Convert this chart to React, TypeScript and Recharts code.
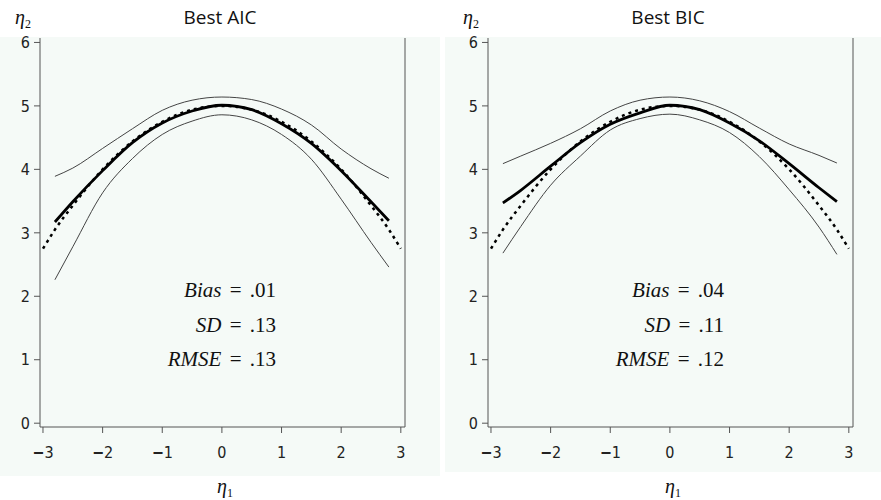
import { LineChart, Line, XAxis, YAxis, ReferenceLine } from 'recharts'

const etaGrid = [-3, -2.8, -2.5, -2, -1.5, -1, -0.5, 0, 0.5, 1, 1.5, 2, 2.5, 2.8, 3]

// true curve (dashed), same in both panels
const trueCurve = [2.75, 3.05, 3.43, 4.0, 4.44, 4.75, 4.94, 5.0, 4.94, 4.75, 4.44, 4.0, 3.43, 3.05, 2.75]

// Best AIC
const aicEstimate = [null, 3.17, 3.49, 3.98, 4.42, 4.73, 4.92, 5.01, 4.94, 4.72, 4.41, 3.98, 3.49, 3.19, null]
const aicUpper = [null, 3.89, 4.02, 4.33, 4.64, 4.93, 5.09, 5.14, 5.1, 4.95, 4.7, 4.32, 4.01, 3.86, null]
const aicLower = [null, 2.26, 2.78, 3.63, 4.17, 4.55, 4.76, 4.86, 4.78, 4.55, 4.16, 3.53, 2.85, 2.46, null]

// Best BIC
const bicEstimate = [null, 3.47, 3.67, 4.05, 4.42, 4.71, 4.89, 5.01, 4.94, 4.73, 4.45, 4.09, 3.71, 3.49, null]
const bicUpper = [null, 4.09, 4.21, 4.41, 4.64, 4.92, 5.09, 5.14, 5.08, 4.91, 4.65, 4.4, 4.22, 4.1, null]
const bicLower = [null, 2.68, 3.1, 3.75, 4.21, 4.62, 4.8, 4.87, 4.78, 4.58, 4.2, 3.68, 3.09, 2.66, null]

const xTicks = [-3, -2, -1, 0, 1, 2, 3]
const yTicks = [0, 1, 2, 3, 4, 5, 6]

const aicStats = { bias: '.01', sd: '.13', rmse: '.13' }
const bicStats = { bias: '.04', sd: '.11', rmse: '.12' }

const bg = '#f5faf7'
const axisColor = '#555'
const narrow = '"Liberation Sans Narrow", "DejaVu Sans Condensed", Arial, sans-serif'
const serif = '"Liberation Serif", "Times New Roman", serif'

const buildRows = (est: (number | null)[], upper: (number | null)[], lower: (number | null)[]) =>
  etaGrid.map((x, i) => ({ x, truth: trueCurve[i], est: est[i], upper: upper[i], lower: lower[i] }))

const XTick = ({ x, y, payload }: any) => (
  <text x={x} y={y} dy="0.71em" textAnchor="middle" fontSize={16} fontFamily={narrow} fill="#222">
    {payload.value < 0 && <tspan fontWeight="bold">{'\u2212'}</tspan>}
    {Math.abs(payload.value)}
  </text>
)

const YTick = ({ x, y, payload }: any) => (
  <text x={x} y={y} dy="0.36em" textAnchor="end" fontSize={16} fontFamily={narrow} fill="#222">
    {payload.value}
  </text>
)

interface PanelProps {
  title: string
  rows: ReturnType<typeof buildRows>
  stats: { bias: string; sd: string; rmse: string }
  left: number
  bgLeft: number
  bgWidth: number
  bgBottom: number
}

function Panel({ title, rows, stats, left, bgLeft, bgWidth, bgBottom }: PanelProps) {
  return (
    <>
      <div
        style={{ position: 'absolute', left: bgLeft, top: 37, width: bgWidth, height: bgBottom - 37, background: bg }}
      />
      <div style={{ position: 'absolute', left, top: 0 }}>
        <LineChart width={440} height={500} data={rows} margin={{ top: 38, right: 35, left: 10, bottom: 43 }}>
          <XAxis
            dataKey="x"
            type="number"
            domain={[-3.05, 3.07]}
            ticks={xTicks}
            allowDataOverflow
            height={30}
            tickSize={6}
            tickMargin={14}
            tick={<XTick />}
            stroke={axisColor}
          />
          <YAxis
            type="number"
            domain={[-0.06, 6.07]}
            ticks={yTicks}
            allowDataOverflow
            width={30}
            tickSize={6}
            tickMargin={4}
            tick={<YTick />}
            stroke={axisColor}
          />
          <ReferenceLine x={3.07} stroke={axisColor} />
          <Line
            dataKey="truth"
            type="monotone"
            stroke="#000"
            strokeWidth={2.5}
            strokeDasharray="3 4"
            dot={false}
            isAnimationActive={false}
          />
          <Line dataKey="upper" type="monotone" stroke="#444" strokeWidth={1} dot={false} isAnimationActive={false} />
          <Line dataKey="lower" type="monotone" stroke="#444" strokeWidth={1} dot={false} isAnimationActive={false} />
          <Line dataKey="est" type="monotone" stroke="#000" strokeWidth={2.8} dot={false} isAnimationActive={false} />
        </LineChart>
      </div>
      <svg
        width={440}
        height={500}
        style={{ position: 'absolute', left, top: 0, pointerEvents: 'none', overflow: 'visible' }}
      >
        <text x={220} y={24} textAnchor="middle" fontFamily="'Open Sans', Lato, sans-serif" fontSize={19} fill="#111">
          {title}
        </text>
        <text x={15} y={24} fontFamily={serif} fontSize={20} fill="#111">
          <tspan fontStyle="italic">η</tspan>
          <tspan fontSize={12} dy={4}>2</tspan>
        </text>
        <text x={217} y={493} fontFamily={serif} fontSize={20} fill="#111">
          <tspan fontStyle="italic">η</tspan>
          <tspan fontSize={12} dy={4}>1</tspan>
        </text>
        <g fontFamily={serif} fontSize={21} fill="#111" textAnchor="end" wordSpacing={3}>
          <text x={276} y={297}>
            <tspan fontStyle="italic">Bias</tspan> = {stats.bias}
          </text>
          <text x={276} y={332}>
            <tspan fontStyle="italic">SD</tspan> = {stats.sd}
          </text>
          <text x={276} y={366}>
            <tspan fontStyle="italic">RMSE</tspan> = {stats.rmse}
          </text>
        </g>
      </svg>
    </>
  )
}

export default function App() {
  return (
    <div style={{ position: 'absolute', left: 0, top: 0, width: 881, height: 500, background: '#fff', overflow: 'hidden' }}>
      <Panel
        title="Best AIC"
        rows={buildRows(aicEstimate, aicUpper, aicLower)}
        stats={aicStats}
        left={0}
        bgLeft={0}
        bgWidth={440}
        bgBottom={476}
      />
      <Panel
        title="Best BIC"
        rows={buildRows(bicEstimate, bicUpper, bicLower)}
        stats={bicStats}
        left={448}
        bgLeft={445}
        bgWidth={436}
        bgBottom={472}
      />
    </div>
  )
}
